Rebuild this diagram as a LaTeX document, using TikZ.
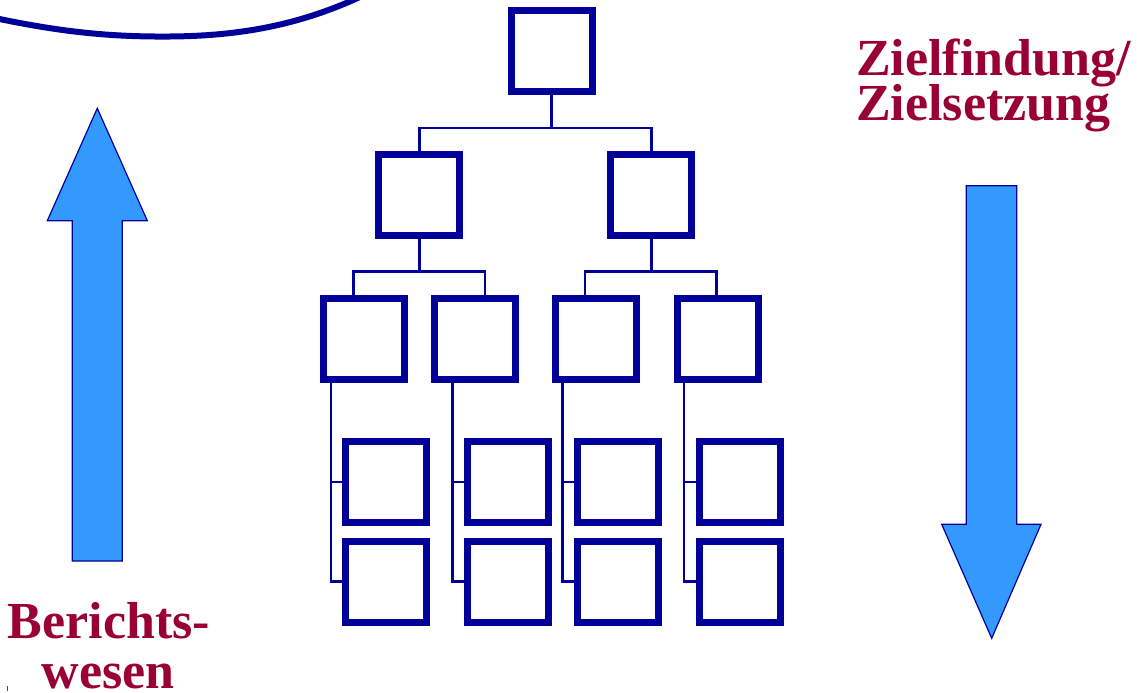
\documentclass[tikz,border=0pt]{standalone}
\usepackage{fontspec}
\setmainfont{Liberation Serif}
\definecolor{dblue}{RGB}{0,0,153}
\definecolor{arrfill}{RGB}{51,153,255}
\definecolor{wine}{RGB}{153,0,51}
\begin{document}
\begin{tikzpicture}[x=1pt,y=-1pt,
  orgbox/.style={draw=dblue,line width=7pt,minimum size=81pt,inner sep=0pt,outer sep=0pt,fill=white},
  conn/.style={draw=dblue,line width=2.7pt},
  bigarrow/.style={fill=arrfill,draw=dblue,line width=1.2pt,line join=miter},
  lbl/.style={text=wine,font=\fontsize{52}{45}\selectfont\bfseries,inner sep=0pt}]
\useasboundingbox (0,0) rectangle (1140,693);
% arc
\draw[dblue,line width=6pt] (-10,17) .. controls (60,32) and (110,37) .. (170,36.5) .. controls (240,36) and (300,25) .. (362,-4);
% boxes
\node[orgbox] (t) at (551.7,51.2) {};
\node[orgbox] (l2a) at (419.3,194.9) {};
\node[orgbox] (l2b) at (651.2,194.9) {};
\node[orgbox] (l3a) at (364.2,338.5) {};
\node[orgbox] (l3b) at (474.5,338.5) {};
\node[orgbox] (l3c) at (596,338.5) {};
\node[orgbox] (l3d) at (717.5,338.5) {};
\node[orgbox] (l4a1) at (386.2,482) {};
\node[orgbox] (l4a2) at (386.2,581.5) {};
\node[orgbox] (l4b1) at (507.7,482) {};
\node[orgbox] (l4b2) at (507.7,581.5) {};
\node[orgbox] (l4c1) at (618.2,482) {};
\node[orgbox] (l4c2) at (618.2,581.5) {};
\node[orgbox] (l4d1) at (739.5,482) {};
\node[orgbox] (l4d2) at (739.5,581.5) {};
% junctions
\coordinate (j1) at (551.7,128);
\coordinate (j2a) at (419.3,271.7);
\coordinate (j2b) at (651.2,271.7);
% connectors
\draw[conn] (t.south) -- (j1);
\draw[conn] (l2a.north) |- (j1) -| (l2b.north);
\draw[conn] (l2a.south) -- (j2a);
\draw[conn] (l2b.south) -- (j2b);
\draw[conn] (j2a) -| ([xshift=-10.9pt]l3a.north);
\draw[conn] (j2a) -| ([xshift=10.5pt]l3b.north);
\draw[conn] (j2b) -| ([xshift=-11pt]l3c.north);
\draw[conn] (j2b) -| ([xshift=-0.8pt]l3d.north);
\draw[conn] ([xshift=-33.2pt]l3a.south) |- (l4a1.west);
\draw[conn] ([xshift=-33.2pt]l3a.south) |- (l4a2.west);
\draw[conn] ([xshift=-22.2pt]l3b.south) |- (l4b1.west);
\draw[conn] ([xshift=-22.2pt]l3b.south) |- (l4b2.west);
\draw[conn] ([xshift=-33.3pt]l3c.south) |- (l4c1.west);
\draw[conn] ([xshift=-33.3pt]l3c.south) |- (l4c2.west);
\draw[conn] ([xshift=-33.5pt]l3d.south) |- (l4d1.west);
\draw[conn] ([xshift=-33.5pt]l3d.south) |- (l4d2.west);
% redraw box borders on top of connectors
\foreach \n in {t,l2a,l2b,l3a,l3b,l3c,l3d,l4a1,l4a2,l4b1,l4b2,l4c1,l4c2,l4d1,l4d2}{
  \draw[dblue,line width=7pt] (\n.north west) rectangle (\n.south east);
}
% arrows
\draw[bigarrow] (97.3,108.3) -- (147.3,220.7) -- (122.3,220.7) -- (122.3,561) -- (72.3,561) -- (72.3,220.7) -- (47.3,220.7) -- cycle;
\draw[bigarrow] (966.3,185.7) -- (1016.7,185.7) -- (1016.7,524.3) -- (1041,524.3) -- (991.7,638.3) -- (941.7,524.3) -- (966.3,524.3) -- cycle;
% labels
\node[lbl,anchor=base west] (z1) at (856,75) {Zielfindung/};
\node[lbl,anchor=base west] (z2) at (856,120) {Zielsetzung};
\node[lbl,anchor=base west] (b1) at (7.5,638.3) {Berichts-};
\node[lbl,anchor=base] (b2) at (108,688.5) {wesen};
% tiny mark
\draw[black!70,line width=0.8pt] (7.3,686) -- (7.3,691);
\end{tikzpicture}
\end{document}
